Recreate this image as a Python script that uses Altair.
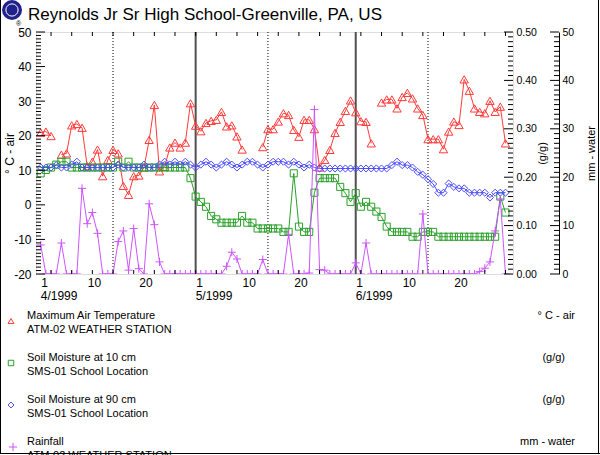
import altair as alt
import pandas as pd

TITLE = "Reynolds Jr Sr High School-Greenville, PA, US"
dates = [d.strftime("%Y-%m-%d") for d in pd.date_range("1999-04-01", "1999-06-30", freq="D")]

# Maximum air temperature (deg C), None = missing
temp = [20.9, 21.2, 19.9, None, 14.5, 14.9, 23.0, 23.4, 22.3, 11.2,
        12.5, 16.0, 8.3, 13.0, 15.9, 14.9, 5.5, 2.9, 8.3, 8.5,
        10.8, 18.8, 28.9, 9.7, 11.0, 16.6, 18.0, 16.6, 18.0, 29.4,
        22.9, 21.3, 23.7, 24.3, 24.6, 26.9, 22.7, 23.0, 19.8, 16.0,
        None, None, None, 16.7, 21.9, 21.9, 24.1, 26.5, 26.0, 21.7,
        19.7, 24.6, 24.6, 21.9, 10.8, 13.0, 15.9, 20.8, 24.0, 27.2,
        30.2,
        26.8, 24.2, 24.0, 17.8, None, 29.6, 30.5, 30.5, 27.9, 31.2,
        32.4, 30.8, 27.9, 26.0, 19.0, 19.0, 19.0, 16.1, 21.2, 24.1,
        23.1, 36.3, 33.0, 27.9, 26.9, 26.5, 30.1, 26.9, 28.4, 17.8]

# Soil moisture at 10 cm (g/g)
soil10 = [0.208, 0.215, 0.220, 0.226, 0.232, 0.232, 0.220, 0.220, 0.220, 0.220,
          0.220, 0.220, 0.220, 0.220, 0.220, 0.232, 0.220, 0.232, 0.220, 0.220,
          0.220, 0.220, 0.220, 0.220, 0.220, 0.220, 0.220, 0.220, 0.220, 0.198,
          0.160, 0.149, 0.139, 0.120, 0.113, 0.106, 0.106, 0.106, 0.106, 0.120,
          0.106, 0.106, 0.094, 0.094, 0.094, 0.094, 0.094, 0.087, 0.087, 0.208,
          0.098, 0.087, 0.087, 0.168, 0.198, 0.198, 0.198, 0.198, 0.180, 0.167,
          0.149,
          0.167, 0.139, 0.149, 0.139, 0.129, 0.118, 0.098, 0.087, 0.087, 0.087,
          0.087, 0.077, 0.077, 0.087, 0.087, 0.087, 0.077, 0.077, 0.077, 0.077,
          0.077, 0.077, 0.077, 0.077, 0.077, 0.077, 0.077, 0.077, 0.160, 0.127]

# Soil moisture at 90 cm (g/g)
soil90 = [0.220, 0.220, 0.220, 0.225, 0.220, 0.220, 0.226, 0.232, 0.220, 0.220,
          0.220, 0.220, 0.220, 0.220, 0.220, 0.226, 0.220, 0.220, 0.220, 0.220,
          0.226, 0.220, 0.220, 0.226, 0.232, 0.226, 0.232, 0.226, 0.232, 0.226,
          0.220, 0.226, 0.232, 0.226, 0.220, 0.226, 0.232, 0.226, 0.220, 0.226,
          0.232, 0.232, 0.226, 0.220, 0.226, 0.232, 0.232, 0.232, 0.226, 0.232,
          0.226, 0.220, 0.226, 0.220, 0.218, 0.218, 0.218, 0.218, 0.218, 0.218,
          0.218,
          0.218, 0.218, 0.218, 0.218, 0.218, 0.218, 0.218, 0.225, 0.232, 0.225,
          0.225, 0.220, 0.211, 0.205, 0.196, 0.186, 0.168, 0.168, 0.187, 0.180,
          0.177, 0.177, 0.168, 0.168, 0.168, 0.168, 0.158, 0.168, 0.168, 0.168]

# Rainfall (mm)
rain = [6.0, 0, 0, 0, 6.4, 0, 0, 0, 17.7, 10.4,
        12.7, 8.4, 0, 0, 0, 6.7, 8.9, 0.8, 9.4, 1.1,
        0, 14.5, 10.2, 2.5, 0, 0, 0, 0, 0, 0,
        0, 0, 0, 0, 0, 0, 1.6, 4.5, 3.1, 0,
        0, 0, 0, 3.0, 0, 0, 0, 0, 8.2, 0,
        0, 0, 0.2, 34.0, 0.9, 0.8, 0, 0, 0, 0,
        0,
        2.3, 0, 6.4, 0, 0, 0, 0, 0, 0, 0,
        0, 0, 0, 12.4, 0, 0, 0, 0, 0, 0,
        0, 0, 0, 0, 0.5, 1.2, 2.5, 8.9, 15.5, 0]

month_starts = ["1999-05-01", "1999-06-01"]
mid_months = ["1999-04-15", "1999-05-15", "1999-06-15"]
month_label_dates = ["1999-04-01", "1999-05-01", "1999-06-01"]
month_labels = ["4/1999", "5/1999", "6/1999"]
x_tick_days = [1, 10, 20]
x_minor_dates = [d.strftime("%Y-%m-%d") for d in pd.date_range("1999-04-03", "1999-06-30", freq="4D")]

legend_names = ["Maximum Air Temperature", "Soil Moisture at 10 cm",
                "Soil Moisture at 90 cm", "Rainfall"]
legend_stations = ["ATM-02 WEATHER STATION", "SMS-01 School Location",
                   "SMS-01 School Location", "ATM-02 WEATHER STATION"]
legend_units = ["\u00b0 C - air", "(g/g)", "(g/g)", "mm - water"]

temp_ticks = list(range(-20, 51))
gg_ticks = [round(i * 0.01, 2) for i in range(51)]
mm_ticks = list(range(0, 51))

RED, GREEN, BLUE, MAG = "#ff3a3a", "#2aa02a", "#4a4aff", "#cc55ff"
PLUS = "M-1,0L1,0M0,-1L0,1"
W, H = 477, 242
FONT = "Liberation Sans"

seg, s = [], 0
for v in temp:
    if v is None:
        s += 1
    seg.append(s)

df = pd.DataFrame({"date": dates, "temp": temp, "seg": seg,
                   "soil10": soil10, "soil90": soil90, "rain": rain})

xdom = [alt.DateTime(year=1999, month=3, date=31, hours=2, utc=True),
        alt.DateTime(year=1999, month=7, date=1, hours=11, utc=True)]
xscale = alt.Scale(type="utc", domain=xdom)
xticks = [alt.DateTime(year=1999, month=m, date=d, utc=True) for m in (4, 5, 6) for d in x_tick_days]
xaxis = alt.Axis(values=xticks, labelExpr="'' + utcdate(datum.value)", ticks=False, domain=False,
                 grid=False, labelAlign="left", labelBaseline="top", labelPadding=3,
                 labelFontSize=12, labelFont=FONT, labelColor="black", title=None,
                 labelOverlap=False, labelFlush=False)
X = alt.X("date:T", scale=xscale, axis=xaxis)

def ysc(dom):
    return alt.Scale(domain=dom, nice=False, zero=False)

common_axis = dict(ticks=False, grid=False, labelColor="black", labelFont=FONT,
                   titleFont=FONT, titleFontWeight="normal", titleColor="black",
                   titleAngle=270, titleY=H / 2, titleAlign="center", titleBaseline="middle",
                   labelFlush=False, labelOverlap=False)
left_axis = alt.Axis(orient="left", values=list(range(-20, 51, 10)), labelExpr="datum.value + ''",
                     domain=False, labelFontSize=12, labelPadding=5, title="\u00b0 C - air",
                     titleFontSize=12, titleX=-27, **common_axis)
gg_axis = alt.Axis(orient="right", values=[0, 0.1, 0.2, 0.3, 0.4, 0.5], format=".2f",
                   domain=False, labelFontSize=10.5, labelPadding=3, title="(g/g)",
                   titleFontSize=11, titleX=29, **common_axis)
mm_axis = alt.Axis(orient="right", offset=46, values=[0, 10, 20, 30, 40, 50], format="d",
                   domain=True, domainColor="black", labelFontSize=10.5, labelPadding=3,
                   title="mm - water", titleFontSize=11, titleX=32, **common_axis)

base = alt.Chart(df)
layers = []

# vertical reference lines
layers.append(alt.Chart(pd.DataFrame({"date": mid_months})).mark_rule(
    color="black", strokeWidth=1, strokeDash=[1, 2]).encode(x=X))
layers.append(alt.Chart(pd.DataFrame({"date": month_starts})).mark_rule(
    color="#505050", strokeWidth=2).encode(x=X))

# temperature
tvalid = base.transform_filter("isValid(datum.temp)")
layers.append(tvalid.mark_line(color=RED, strokeWidth=1, clip=True).encode(
    x=X, y=alt.Y("temp:Q", scale=ysc([-20, 50]), axis=left_axis), detail="seg:N"))
layers.append(tvalid.mark_point(shape="triangle-up", size=70, filled=False, color=RED,
                                strokeWidth=1, opacity=1, clip=True).encode(
    x=X, y=alt.Y("temp:Q", scale=ysc([-20, 50]), axis=None)))

# soil 10 cm
layers.append(base.mark_line(color=GREEN, strokeWidth=1, clip=True).encode(
    x=X, y=alt.Y("soil10:Q", scale=ysc([0, 0.5]), axis=gg_axis)))
layers.append(base.mark_point(shape="square", size=50, filled=False, color=GREEN,
                              strokeWidth=1, opacity=1, clip=True).encode(
    x=X, y=alt.Y("soil10:Q", scale=ysc([0, 0.5]), axis=None)))

# soil 90 cm
layers.append(base.mark_line(color=BLUE, strokeWidth=1, clip=True).encode(
    x=X, y=alt.Y("soil90:Q", scale=ysc([0, 0.5]), axis=None)))
layers.append(base.mark_point(shape="diamond", size=50, filled=False, color=BLUE,
                              strokeWidth=1, opacity=1, clip=True).encode(
    x=X, y=alt.Y("soil90:Q", scale=ysc([0, 0.5]), axis=None)))

# rainfall
layers.append(base.mark_line(color=MAG, strokeWidth=1, clip=True).encode(
    x=X, y=alt.Y("rain:Q", scale=ysc([0, 50]), axis=mm_axis)))
layers.append(base.mark_point(shape=PLUS, size=64, filled=False, color=MAG,
                              strokeWidth=1, opacity=1, clip=True).encode(
    x=X, y=alt.Y("rain:Q", scale=ysc([0, 50]), axis=None)))

# inward tick ladders
def ladder(vals, dom, x0, x1):
    return alt.Chart(pd.DataFrame({"v": vals})).mark_rule(color="black", strokeWidth=1).encode(
        y=alt.Y("v:Q", scale=ysc(dom), axis=None), x=alt.value(x0), x2=alt.value(x1))

tmin = [v for v in temp_ticks if v % 10 != 0]
tmaj = [v for v in temp_ticks if v % 10 == 0]
gmin = [v for i, v in enumerate(gg_ticks) if i % 10 != 0]
gmaj = [v for i, v in enumerate(gg_ticks) if i % 10 == 0]
mmin = [v for v in mm_ticks if v % 10 != 0]
mmaj = [v for v in mm_ticks if v % 10 == 0]
layers += [ladder(tmin, [-20, 50], 0, 5), ladder(tmaj, [-20, 50], 0, 9),
           ladder(gmin, [0, 0.5], W - 5, W), ladder(gmaj, [0, 0.5], W - 9, W),
           ladder(mmin, [0, 50], W + 46 - 5, W + 46), ladder(mmaj, [0, 50], W + 46 - 9, W + 46)]

# small date ticks top / bottom
xm = alt.Chart(pd.DataFrame({"date": x_minor_dates}))
layers.append(xm.mark_rule(color="black", strokeWidth=1).encode(x=X, y=alt.value(0), y2=alt.value(4)))
layers.append(xm.mark_rule(color="black", strokeWidth=1).encode(x=X, y=alt.value(H - 4), y2=alt.value(H)))

# month labels under the axis
layers.append(alt.Chart(pd.DataFrame({"date": month_label_dates, "lab": month_labels})).mark_text(
    align="left", baseline="middle", fontSize=12, font=FONT, color="black").encode(
    x=X, y=alt.value(H + 22), text="lab:N"))

def txt(s, x, y, size=11, align="left", baseline="middle", color="black"):
    return alt.Chart(pd.DataFrame({"t": [s]})).mark_text(
        align=align, baseline=baseline, fontSize=size, font=FONT, color=color).encode(
        x=alt.value(x), y=alt.value(y), text="t:N")

def sym(shape, size, color, x, y):
    return alt.Chart(pd.DataFrame({"k": [0]})).mark_point(
        shape=shape, size=size, filled=False, color=color, strokeWidth=1, opacity=1).encode(
        x=alt.value(x), y=alt.value(y))

# title and logo
layers.append(alt.Chart(pd.DataFrame({"k": [0]})).mark_point(
    shape="circle", size=400, filled=True, color="#22228c", opacity=1).encode(
    x=alt.value(-24), y=alt.value(-22)))
layers.append(alt.Chart(pd.DataFrame({"k": [0]})).mark_point(
    shape="circle", size=150, filled=False, color="white", strokeWidth=1, opacity=1).encode(
    x=alt.value(-24), y=alt.value(-22)))
layers.append(txt("\u00ae", -20, -8, size=7))
layers.append(txt(TITLE, -8, -12, size=17, baseline="alphabetic"))

# legend block
shapes = [("triangle-up", 35), ("square", 30), ("diamond", 35), (PLUS, 70)]
colors = [RED, GREEN, BLUE, MAG]
row_y = [284, 326, 368, 410]
unit_right = [539, 529, 529, 539]
for i in range(4):
    sx = -23 if i == 3 else -25
    layers.append(sym(shapes[i][0], shapes[i][1], colors[i], sx, row_y[i] + 5))
    layers.append(txt(legend_names[i], -9, row_y[i]))
    layers.append(txt(legend_stations[i], -9, row_y[i] + 14))
    layers.append(txt(legend_units[i], unit_right[i], row_y[i], align="right"))

# outer frame (left, right, bottom)
fr = alt.Chart(pd.DataFrame({"k": [0]}))
layers.append(fr.mark_rule(color="black", strokeWidth=1).encode(
    x=alt.value(-35.5), y=alt.value(-32), y2=alt.value(422)))
layers.append(fr.mark_rule(color="black", strokeWidth=1).encode(
    x=alt.value(562.5), y=alt.value(-32), y2=alt.value(422)))
layers.append(fr.mark_rule(color="black", strokeWidth=1).encode(
    x=alt.value(-36), x2=alt.value(564), y=alt.value(421.5)))

chart = alt.layer(*layers).resolve_scale(y="independent").properties(
    width=W, height=H, autosize=alt.AutoSizeParams(type="none"),
    padding={"left": 36, "top": 32, "right": 600 - 36 - W, "bottom": 455 - 32 - H},
    background="white"
).configure_view(stroke="black", strokeWidth=1).configure(font=FONT)

chart.save("out.html", embed_options={"renderer": "svg", "actions": False})
